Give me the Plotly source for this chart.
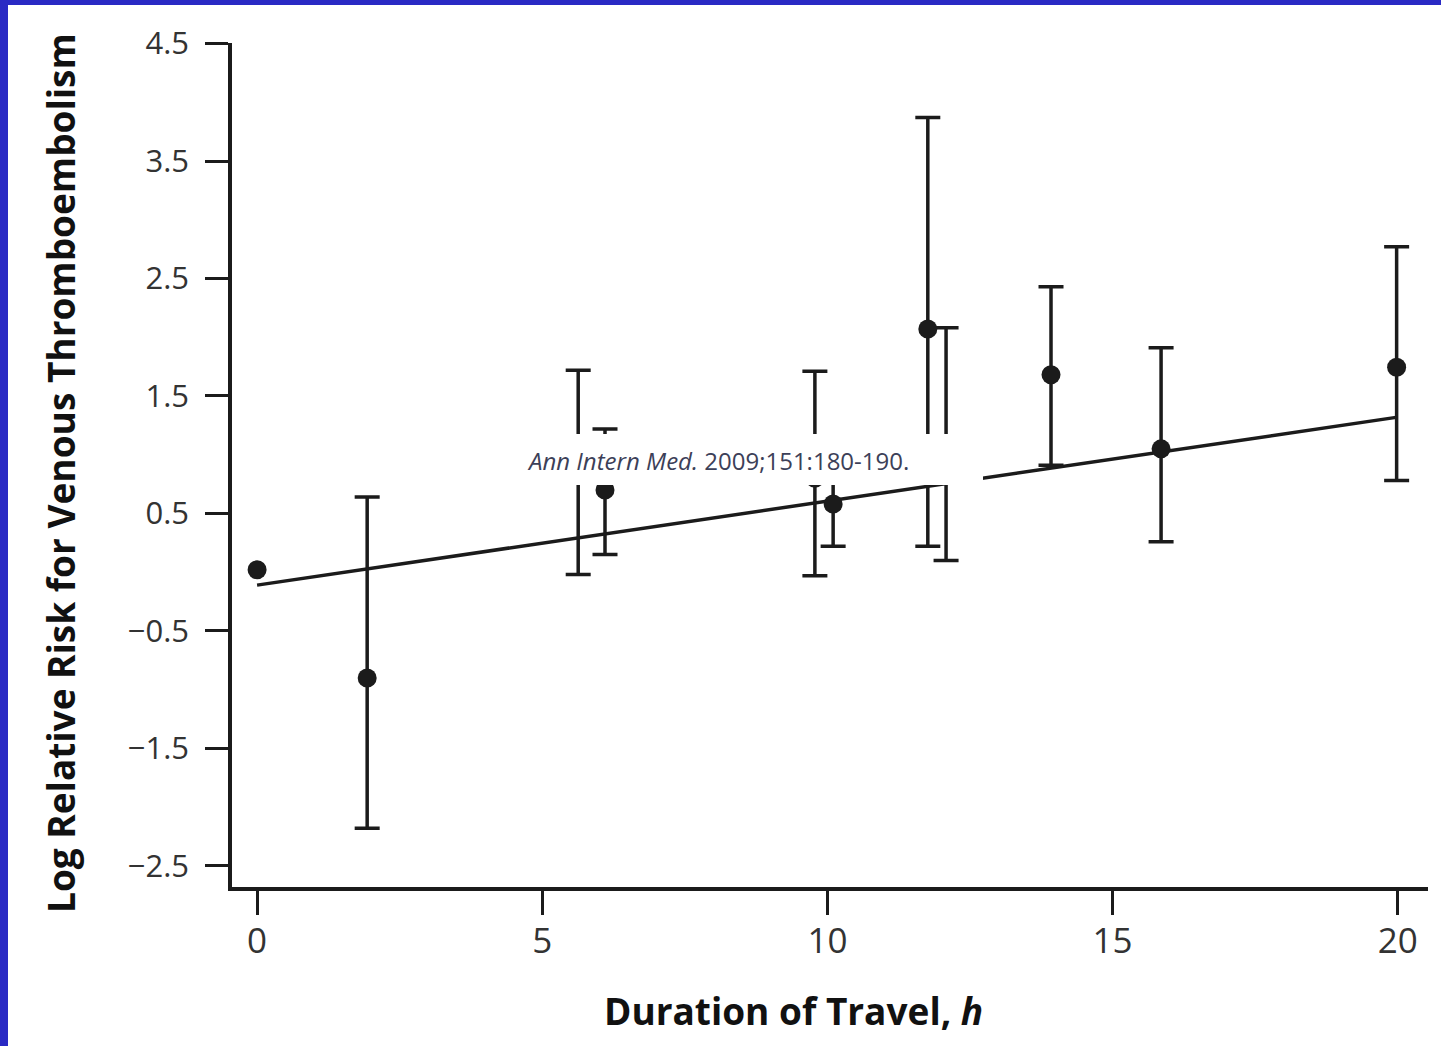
import plotly.graph_objects as go

# ---- data ----
duration_h = [0.0, 1.93, 5.63, 6.10, 9.78, 10.10, 11.76, 12.08, 13.92, 15.85, 19.98]
log_rr = [0.02, -0.90, 0.85, 0.70, 0.80, 0.58, 2.07, 0.95, 1.68, 1.05, 1.745]
ci_upper = [None, 0.64, 1.72, 1.22, 1.71, 0.95, 3.87, 2.08, 2.43, 1.91, 2.77]
ci_lower = [None, -2.18, -0.02, 0.15, -0.03, 0.22, 0.22, 0.10, 0.91, 0.26, 0.78]

fit_x = [0.0, 20.0]
fit_y = [-0.11, 1.32]

y_ticks = [4.5, 3.5, 2.5, 1.5, 0.5, -0.5, -1.5, -2.5]
y_tick_text = ["4.5", "3.5", "2.5", "1.5", "0.5", "\u22120.5", "\u22121.5", "\u22122.5"]
x_ticks = [0, 5, 10, 15, 20]

citation_italic = "Ann Intern Med."
citation_rest = "2009;151:180-190."
x_title = "Duration of Travel, "
x_title_italic = "h"
y_title = "Log Relative Risk for Venous Thromboembolism"

INK = "#1b1b1b"
W, H = 1441, 1046
ML, MR, MT, MB = 232, 13, 43, 159
PW, PH = W - ML - MR, H - MT - MB

fig = go.Figure()

fig.add_trace(go.Scatter(
    x=fit_x, y=fit_y, mode="lines",
    line=dict(color=INK, width=3.5), showlegend=False, hoverinfo="skip"))

# points with confidence intervals
with_ci = [i for i in range(len(duration_h)) if ci_upper[i] is not None]
no_ci = [i for i in range(len(duration_h)) if ci_upper[i] is None]

fig.add_trace(go.Scatter(
    x=[duration_h[i] for i in with_ci],
    y=[log_rr[i] for i in with_ci],
    mode="markers",
    marker=dict(color=INK, size=19),
    error_y=dict(type="data", symmetric=False,
                 array=[ci_upper[i] - log_rr[i] for i in with_ci],
                 arrayminus=[log_rr[i] - ci_lower[i] for i in with_ci],
                 color=INK, thickness=3.5, width=12.5, visible=True),
    showlegend=False))

# points without intervals
fig.add_trace(go.Scatter(
    x=[duration_h[i] for i in no_ci],
    y=[log_rr[i] for i in no_ci],
    mode="markers", marker=dict(color=INK, size=19), showlegend=False))

def px_to_paper_x(px):
    return (px - ML) / PW

def px_to_paper_y(py):
    return 1 - (py - MT) / PH

shapes = [
    # white slide area (blue border shows at left and top)
    dict(type="rect", xref="paper", yref="paper", layer="below",
         x0=px_to_paper_x(8), x1=px_to_paper_x(W + 5),
         y0=px_to_paper_y(H + 5), y1=px_to_paper_y(5),
         fillcolor="white", line=dict(width=0)),
    # citation box
    dict(type="rect", xref="paper", yref="paper", layer="above",
         x0=px_to_paper_x(513), x1=px_to_paper_x(983),
         y0=px_to_paper_y(485), y1=px_to_paper_y(434),
         fillcolor="white", line=dict(width=0)),
]

annotations = [
    dict(xref="paper", yref="paper", x=px_to_paper_x(525), y=px_to_paper_y(460),
         xanchor="left", yanchor="middle", showarrow=False,
         text="<i>" + citation_italic + "</i> " + citation_rest,
         font=dict(family="Open Sans", size=24, color="#3c4058")),
    dict(xref="paper", yref="paper", x=px_to_paper_x(793), y=px_to_paper_y(1010),
         xanchor="center", yanchor="middle", showarrow=False,
         text="<b>" + x_title + "<i>" + x_title_italic + "</i></b>",
         font=dict(family="Open Sans", size=37, color="#111111")),
    dict(xref="paper", yref="paper", x=px_to_paper_x(60), y=px_to_paper_y(473),
         xanchor="center", yanchor="middle", showarrow=False, textangle=-90,
         text="<b>" + y_title + "</b>",
         font=dict(family="Open Sans", size=37, color="#111111")),
]

fig.update_layout(
    width=W, height=H,
    margin=dict(l=ML, r=MR, t=MT, b=MB, pad=0),
    paper_bgcolor="#2a2ac4", plot_bgcolor="white",
    shapes=shapes, annotations=annotations,
    xaxis=dict(range=[-0.44, 20.53], tickvals=x_ticks, ticks="outside", ticklen=24,
               tickwidth=3, tickcolor=INK, showline=True, linecolor=INK, linewidth=4,
               showgrid=False, zeroline=False, ticklabelstandoff=-4,
               tickfont=dict(family="Open Sans", size=35, color="#333333")),
    yaxis=dict(range=[-2.68, 4.505], tickvals=y_ticks, ticktext=y_tick_text,
               ticks="outside", ticklen=23, tickwidth=3, tickcolor=INK,
               showline=True, linecolor=INK, linewidth=3.5, showgrid=False,
               zeroline=False, ticklabelstandoff=10,
               tickfont=dict(family="Open Sans", size=31, color="#333333")),
)

fig.write_html("out.html", config={"displayModeBar": False},
               post_script="document.body.style.margin='0px';")
